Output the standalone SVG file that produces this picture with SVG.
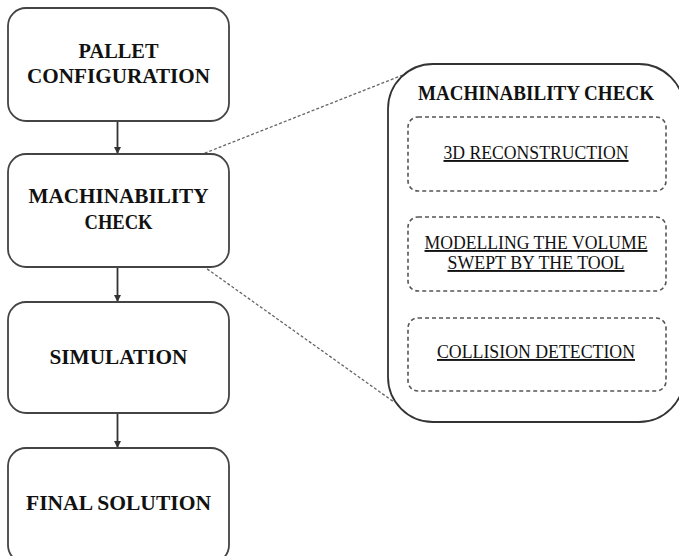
<svg xmlns="http://www.w3.org/2000/svg" width="679" height="556" viewBox="0 0 679 556">
<style>
.box{fill:#fff;stroke:#444;stroke-width:1.8}
.big{fill:#fff;stroke:#333;stroke-width:1.8}
.dbox{fill:none;stroke:#555;stroke-width:1.6;stroke-dasharray:4 3}
.t{font-family:"Liberation Serif","DejaVu Serif","Times New Roman",serif;font-weight:bold;font-size:20px;fill:#111;text-anchor:middle}
.st{font-family:"Liberation Serif","DejaVu Serif","Times New Roman",serif;font-size:19px;fill:#111;text-anchor:middle;text-decoration:underline}
.arr{stroke:#333;stroke-width:1.8;fill:none}
.zoom{stroke:#666;stroke-width:1.3;stroke-dasharray:3 2;fill:none}
</style>
<defs>
<marker id="ah" viewBox="0 0 10 10" refX="10" refY="5" markerWidth="7" markerHeight="7" markerUnits="userSpaceOnUse" orient="auto">
<path d="M0,0 L10,5 L0,10 Z" fill="#333"/>
</marker>
</defs>
<rect width="679" height="556" fill="#fff"/>
<g id="connectors">
<line class="zoom" x1="200" y1="155" x2="413" y2="71"/>
<line class="zoom" x1="203" y1="266" x2="394" y2="402"/>
<line class="arr" x1="117.5" y1="121" x2="117.5" y2="154" marker-end="url(#ah)"/>
<line class="arr" x1="117.5" y1="267" x2="117.5" y2="302" marker-end="url(#ah)"/>
<line class="arr" x1="117.5" y1="413" x2="117.5" y2="448" marker-end="url(#ah)"/>
<line class="arr" x1="536" y1="191" x2="536" y2="217" marker-end="url(#ah)"/>
<line class="arr" x1="536" y1="291" x2="536" y2="318" marker-end="url(#ah)"/>
</g>
<g id="pallet">
<rect class="box" x="8" y="8" width="221" height="113" rx="18"/>
<text class="t" x="118.5" y="58" textLength="80" lengthAdjust="spacingAndGlyphs">PALLET</text>
<text class="t" x="118.5" y="83" textLength="183" lengthAdjust="spacingAndGlyphs">CONFIGURATION</text>
</g>
<g id="machinability">
<rect class="box" x="8" y="154" width="221" height="113" rx="18"/>
<text class="t" x="118.5" y="203" textLength="180" lengthAdjust="spacingAndGlyphs">MACHINABILITY</text>
<text class="t" x="118.5" y="229" textLength="68" lengthAdjust="spacingAndGlyphs">CHECK</text>
</g>
<g id="simulation">
<rect class="box" x="8" y="302" width="221" height="111" rx="18"/>
<text class="t" x="118.5" y="364" textLength="138" lengthAdjust="spacingAndGlyphs">SIMULATION</text>
</g>
<g id="final">
<rect class="box" x="8" y="448" width="221" height="115" rx="18"/>
<text class="t" x="118.5" y="510" textLength="185" lengthAdjust="spacingAndGlyphs">FINAL SOLUTION</text>
</g>
<g id="detail">
<rect class="big" x="388" y="64" width="296" height="358" rx="45"/>
<text class="t" x="536" y="100" font-size="18" textLength="236" lengthAdjust="spacingAndGlyphs">MACHINABILITY CHECK</text>
</g>
<g id="reconstruction">
<rect class="dbox" x="408" y="117" width="258" height="74" rx="10"/>
<text class="st" x="536" y="159" textLength="185" lengthAdjust="spacingAndGlyphs">3D RECONSTRUCTION</text>
</g>
<g id="swept">
<rect class="dbox" x="408" y="217" width="258" height="74" rx="10"/>
<text class="st" x="536" y="249" textLength="223" lengthAdjust="spacingAndGlyphs">MODELLING THE VOLUME</text>
<text class="st" x="536" y="269" textLength="177" lengthAdjust="spacingAndGlyphs">SWEPT BY THE TOOL</text>
</g>
<g id="collision">
<rect class="dbox" x="408" y="318" width="258" height="73" rx="10"/>
<text class="st" x="536" y="358" textLength="198" lengthAdjust="spacingAndGlyphs">COLLISION DETECTION</text>
</g>
</svg>
